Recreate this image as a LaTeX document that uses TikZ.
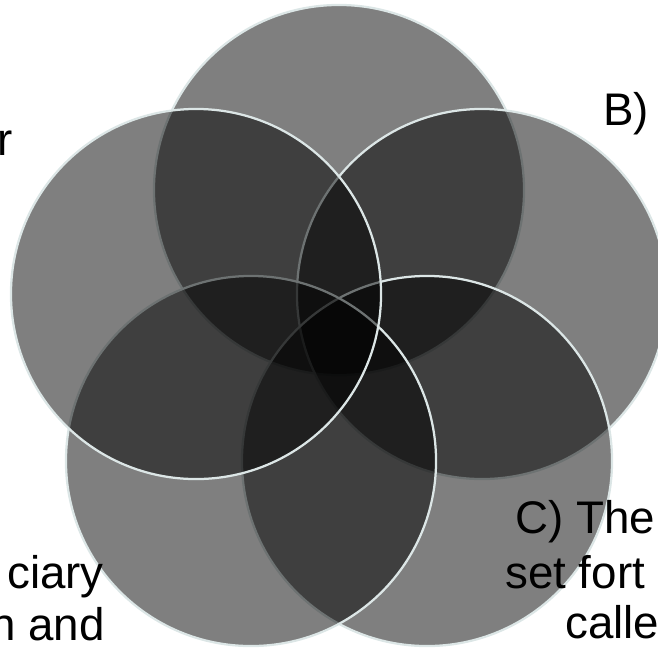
\documentclass[tikz,border=0pt]{standalone}
\usepackage{fontspec}
\setmainfont{Liberation Sans}
\usetikzlibrary{positioning}
\definecolor{rim}{HTML}{DCE6E6}
\tikzset{
  petal/.style={
    circle, inner sep=0pt, minimum size=9.25cm,
    fill=black, fill opacity=0.5, draw opacity=1,
    draw=rim, line width=1.6pt,
  },
  lbl/.style={inner sep=0pt, font=\fontsize{32.5}{38}\selectfont, text=black},
}
\begin{document}
\begin{tikzpicture}[x=0.025cm, y=-0.025cm]

  \clip (0,0) rectangle (658,647);

  % Circles, A on top, then clockwise
  \node[petal] (A) at (339,190) {};
  \node[petal] (B) at (482,294) {};
  \node[petal] (C) at (427,461) {};
  \node[petal] (D) at (251,461) {};
  \node[petal] (E) at (196,294) {};

  % Texts, cut at the page edge
  \node[lbl, anchor=base east] (txtE) at (13,155) {r};
  \node[lbl, anchor=base west] (txtB) at (603,125) {B)};
  \node[lbl, anchor=base west] (txtC1) at (515,533) {C) The};
  \node[lbl, anchor=base west] (txtC2) at (505,588) {set fort};
  \node[lbl, anchor=base west] (txtC3) at (565,638) {calle};
  \node[lbl, anchor=base east] (txtD1) at (104,588) {ciary};
  \node[lbl, anchor=base east] (txtD2) at (105,640) {n and};

\end{tikzpicture}
\end{document}
